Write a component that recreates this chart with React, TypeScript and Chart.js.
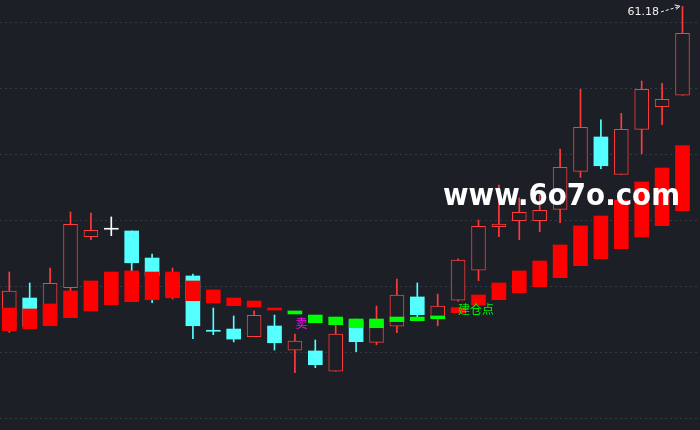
import React, { useEffect, useRef } from "react";
import { Chart, registerables } from "chart.js";

Chart.register(...registerables);

// ---- data (price units) ----
const opens = [36.74, 39.09, 37.27, 39.87, 43.73, 44.3, 44.17, 42.12, 39.39, 40.76, 36.57, 36.74, 36.16, 36.97, 35.13, 35.08, 33.54, 37.35, 35.73, 36.95, 39.17, 37.65, 38.92, 41.19, 44.49, 44.95, 44.95, 45.81, 48.69, 51.29, 48.46, 51.87, 53.58, 54.45];
const highs = [41.06, 40.23, 41.36, 45.61, 45.53, 45.23, 44.17, 42.42, 41.36, 40.91, 38.33, 37.73, 38.11, 37.8, 36.36, 35.91, 37.27, 37.5, 38.48, 40.53, 40.23, 39.39, 42.05, 45.0, 47.65, 46.67, 46.89, 50.38, 54.9, 52.58, 53.08, 55.53, 55.36, 61.18];
const lows = [36.49, 36.82, 37.05, 39.55, 43.51, 43.81, 41.06, 38.73, 39.01, 36.01, 36.31, 35.76, 36.16, 35.15, 33.43, 33.81, 33.54, 35.02, 35.55, 36.46, 37.58, 36.99, 38.86, 40.4, 43.73, 43.51, 44.11, 44.8, 48.23, 48.89, 48.46, 50.02, 52.22, 54.45];
const closes = [39.62, 36.97, 40.2, 44.67, 44.22, 44.3, 41.76, 40.76, 40.76, 36.99, 36.57, 35.98, 37.78, 35.7, 35.83, 34.04, 36.36, 35.78, 37.27, 39.32, 37.83, 38.48, 41.97, 44.52, 44.7, 45.58, 45.73, 48.99, 52.02, 49.11, 51.87, 54.9, 54.14, 59.14];

// indicator bars (top / bottom) and their signal (1 = red, -1 = green)
const indTop = [38.33, 38.26, 38.64, 39.62, 40.38, 41.06, 41.14, 41.06, 41.06, 40.38, 39.7, 39.09, 38.86, 38.33, 38.11, 37.8, 37.65, 37.5, 37.5, 37.65, 37.65, 37.73, 38.36, 39.32, 40.23, 41.14, 41.89, 43.11, 44.55, 45.3, 46.51, 47.88, 48.94, 50.63];
const indBottom = [36.61, 36.76, 36.99, 37.6, 38.11, 38.58, 38.81, 38.96, 39.11, 38.89, 38.71, 38.51, 38.41, 38.18, 37.88, 37.22, 37.07, 36.84, 36.84, 37.3, 37.37, 37.52, 37.98, 38.54, 38.96, 39.49, 39.95, 40.63, 41.54, 42.07, 42.83, 43.71, 44.57, 45.7];
const indSignal = [1, 1, 1, 1, 1, 1, 1, 1, 1, 1, 1, 1, 1, 1, -1, -1, -1, -1, -1, -1, -1, -1, 1, 1, 1, 1, 1, 1, 1, 1, 1, 1, 1, 1];

const gridValues = [30, 35, 40, 45, 50, 55, 60];
const sellIndex = 14;
const sellLabel = "卖";
const buildIndex = 22;
const buildLabel = "建仓点";
const watermark = "www.6o7o.com";

// ---- styles ----
const BG = "#1c1f26";
const UP = "#ff3b3b";
const DOWN = "#54ffff";
const DOJI_UP = "#ffffff";
const IND_RED = "#ff0000";
const IND_GREEN = "#00ff00";

const idx = opens.map((_, i) => i);

function dir(i: number): number {
  if (closes[i] > opens[i]) return 1;
  if (closes[i] < opens[i]) return -1;
  return 0;
}
function candleColor(i: number): string {
  const d = dir(i);
  if (d > 0) return UP;
  if (d < 0) return DOWN;
  const prev = i > 0 ? closes[i - 1] : closes[i];
  return closes[i] >= prev ? DOJI_UP : DOWN;
}

const bgPlugin = {
  id: "bgFill",
  beforeDraw(chart: any) {
    const { ctx, width, height } = chart;
    ctx.save();
    ctx.fillStyle = BG;
    ctx.fillRect(0, 0, width, height);
    ctx.restore();
  },
};

const annoPlugin = {
  id: "annos",
  afterDraw(chart: any) {
    const { ctx } = chart;
    const xs = chart.scales.x;
    const ys = chart.scales.y;
    ctx.save();

    // sell mark
    ctx.font = '12px "Noto Sans CJK SC"';
    ctx.fillStyle = "#ff00ff";
    ctx.textAlign = "center";
    ctx.textBaseline = "middle";
    ctx.fillText(sellLabel, xs.getPixelForValue(sellIndex) + 6.5, ys.getPixelForValue(indBottom[sellIndex]) + 9);

    // build point
    ctx.fillStyle = "#00ee00";
    ctx.textAlign = "left";
    const by = (ys.getPixelForValue(indTop[buildIndex]) + ys.getPixelForValue(indBottom[buildIndex])) / 2;
    ctx.fillText(buildLabel, xs.getPixelForValue(buildIndex), by - 0.5);

    // peak label
    let pk = 0;
    highs.forEach((h, i) => { if (h > highs[pk]) pk = i; });
    const px = xs.getPixelForValue(pk);
    const py = ys.getPixelForValue(highs[pk]);
    ctx.font = '11px "DejaVu Sans"';
    ctx.fillStyle = "#f0f0f0";
    ctx.textAlign = "right";
    ctx.textBaseline = "middle";
    ctx.fillText(highs[pk].toFixed(2), px - 23.5, py + 6);

    // dashed arrow
    ctx.strokeStyle = "#f0f0f0";
    ctx.lineWidth = 1;
    ctx.setLineDash([3, 2]);
    ctx.beginPath();
    ctx.moveTo(px - 21.5, py + 5.5);
    ctx.lineTo(px - 3, py);
    ctx.stroke();
    ctx.setLineDash([]);
    ctx.beginPath();
    ctx.moveTo(px - 8, py - 1.5);
    ctx.lineTo(px - 2.5, py - 0.2);
    ctx.lineTo(px - 6.5, py + 3);
    ctx.stroke();

    // watermark
    ctx.font = 'bold 31px "DejaVu Sans"';
    ctx.fillStyle = "#ffffff";
    ctx.textAlign = "left";
    ctx.textBaseline = "alphabetic";
    const w = ctx.measureText(watermark).width;
    ctx.translate(443, 204.5);
    ctx.scale(237 / w, 1);
    ctx.fillText(watermark, 0, 0);

    ctx.restore();
  },
};

export default function App() {
  const ref = useRef<HTMLCanvasElement | null>(null);

  useEffect(() => {
    if (!ref.current) return;
    document.body.style.background = BG;

    const wicks = idx.map((i) => ({ x: i, y: [lows[i], highs[i]] }));
    const bodies = idx.map((i) => ({ x: i, y: [opens[i], closes[i]] }));
    const inds = idx.map((i) => ({ x: i, y: [indBottom[i], indTop[i]] }));

    const chart = new Chart(ref.current, {
      type: "bar",
      data: {
        datasets: [
          {
            label: "indicator",
            data: inds as any,
            order: 0,
            grouped: false,
            barThickness: 14,
            backgroundColor: idx.map((i) => (indSignal[i] > 0 ? IND_RED : IND_GREEN)),
            borderWidth: 0,
          } as any,
          {
            label: "body",
            data: bodies as any,
            order: 1,
            grouped: false,
            barThickness: 14,
            minBarLength: 1,
            borderSkipped: false,
            backgroundColor: idx.map((i) => (dir(i) > 0 ? BG : candleColor(i))),
            borderColor: idx.map((i) => candleColor(i)),
            borderWidth: idx.map((i) => (dir(i) > 0 ? 1 : 0)),
          } as any,
          {
            label: "wick",
            data: wicks as any,
            order: 2,
            grouped: false,
            barThickness: 1,
            backgroundColor: idx.map((i) => candleColor(i)),
            borderWidth: 0,
          } as any,
        ],
      },
      options: {
        responsive: false,
        maintainAspectRatio: false,
        devicePixelRatio: 1,
        animation: false,
        layout: { padding: 0 },
        plugins: { legend: { display: false }, tooltip: { enabled: false } },
        events: [],
        scales: {
          x: {
            type: "linear",
            display: false,
            offset: false,
            min: -0.456,
            max: 33.858,
          },
          y: {
            type: "linear",
            position: "right",
            min: 29.091,
            max: 61.667,
            ticks: { display: false },
            grid: { color: "#363a45", lineWidth: 1, drawTicks: false },
            border: { display: false, dash: [2, 3] },
            afterBuildTicks: (scale: any) => {
              scale.ticks = gridValues.map((v) => ({ value: v }));
            },
            afterFit: (scale: any) => {
              scale.width = 0;
            },
          },
        },
      },
      plugins: [bgPlugin, annoPlugin],
    } as any);

    return () => chart.destroy();
  }, []);

  return (
    <div style={{ position: "fixed", left: 0, top: 0, width: 700, height: 430, background: BG }}>
      <canvas ref={ref} width={700} height={430} style={{ display: "block", width: 700, height: 430 }} />
    </div>
  );
}
